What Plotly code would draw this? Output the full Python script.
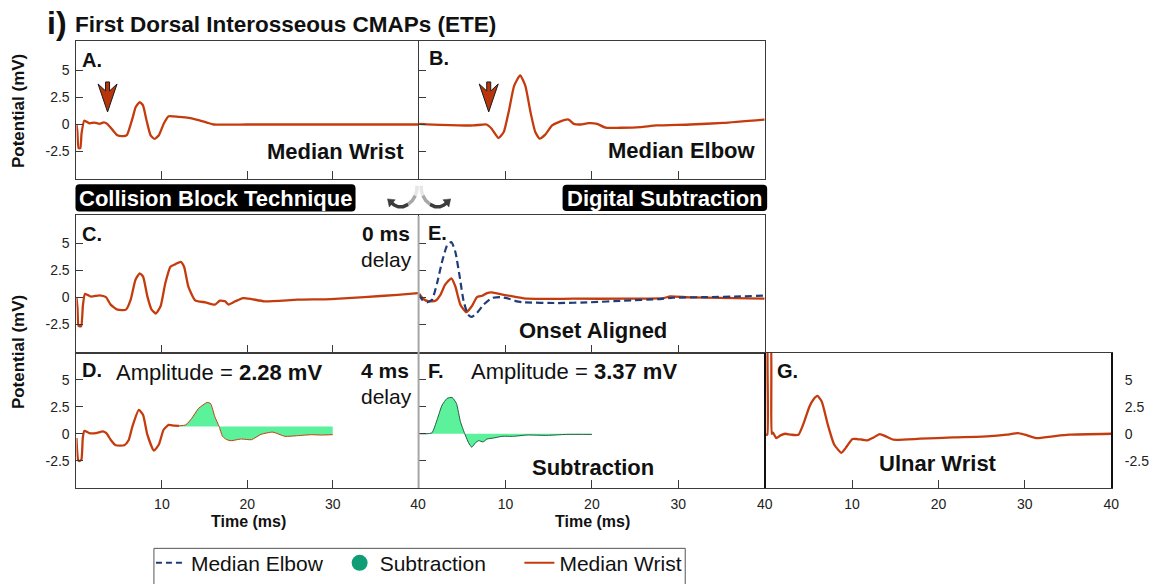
import plotly.graph_objects as go

W, H = 1157, 584
FONT = "Liberation Sans"
ORANGE = "#c43c0e"
NAVY = "#1f3d7a"
GREEN_FILL = "#5cf29c"
GREEN_DARK = "#0f9d75"
AXCOL = "#3a3a3a"

# ---------------- data (time in ms, potential in mV) ----------------
A_t = [0, 0.1, 0.25, 0.45, 0.6, 0.93, 1.5, 2.1, 2.7, 3.2, 3.6, 4.22, 4.8, 5.4, 5.9, 6.55, 6.94, 7.4, 7.79, 8.2,
       8.68, 9.15, 9.65, 10.23, 10.8, 11.98, 13.14, 14.3, 15.27, 16.05, 20, 25, 30, 35, 40]
A_v = [0, -0.6, -2.2, -2.2, -0.8, 0.37, 0.1, 0.18, 0.06, 0.2, 0.06, -0.5, -1.0, -1.07, -0.98, 0.55, 1.62, 2.07, 1.77,
       0.4, -1.0, -1.34, -1.0, 0.09, 0.76, 0.7, 0.61, 0.4, 0.18, 0.0, 0.0, 0.0, 0.0, 0.0, 0.0]

B_t = [0, 2.46, 6.3, 7.8, 8.4, 9.2, 9.8, 10.4, 11.0, 11.7, 12.3, 12.9, 13.45, 13.95, 14.6, 15.4, 16.3, 17.3, 17.9,
       18.7, 19.6, 20.6, 21.6, 23.3, 25.6, 27.5, 31.4, 35.2, 40]
B_v = [0.06, -0.03, -0.09, 0.0, -0.39, -1.25, -0.7, 1.28, 3.57, 4.55, 3.57, 1.13, -0.7, -1.31, -0.94, -0.09, 0.27,
       0.46, 0.06, 0.0, 0.12, 0.06, -0.3, -0.3, -0.24, -0.09, 0.0, 0.15, 0.46]

C_t = [0, 0.12, 0.25, 0.55, 0.75, 1.0, 1.7, 2.7, 3.45, 4.0, 4.8, 5.8, 6.35, 6.9, 7.4, 7.8, 8.3, 8.8, 9.3, 9.85,
       10.4, 11.0, 11.6, 12.2, 12.6, 13.1, 13.9, 15.1, 16.2, 16.8, 17.4, 17.8, 18.6, 19.5, 20.5, 22.0, 25.9, 29.8,
       33.7, 37.6, 40]
C_v = [0, -1.0, -2.68, -2.68, -0.8, 0.31, 0.05, 0.16, 0.0, -0.7, -1.16, -1.16, -0.24, 1.59, 2.2, 1.9, 0.07, -1.16,
       -1.52, -0.85, 1.28, 2.81, 3.05, 3.27, 2.81, 0.98, -0.3, -0.49, -0.7, -0.33, -0.39, -0.7, -0.39, -0.09, -0.18,
       -0.39, -0.24, -0.18, 0.0, 0.21, 0.37]

E_elbow_t = [0, 0.35, 0.92, 1.5, 2.08, 2.66, 3.24, 3.74, 4.2, 4.7, 5.16, 5.66, 6.1, 6.7, 7.47, 8.4, 9.4, 10.4, 11.3,
             12.1, 15.96, 19.8, 23.7, 27.9, 29.4, 33.3, 37.2, 40]
E_elbow_v = [0.21, -0.24, -0.48, -0.24, 1.28, 3.27, 4.79, 5.1, 4.18, 1.89, -0.39, -1.61, -1.83, -1.46, -0.7, -0.09,
             0.0, -0.15, -0.39, -0.48, -0.55, -0.48, -0.33, -0.18, -0.06, 0.0, 0.06, 0.15]
E_wrist_t = [0, 0.5, 1.1, 1.9, 2.47, 3.0, 3.74, 4.2, 4.78, 5.47, 6.1, 6.7, 7.3, 7.86, 8.4, 9.8, 11.3, 12.5, 17.9,
             23.7, 28.3, 29.05, 31.4, 40]
E_wrist_v = [0.31, -0.18, -0.39, -0.33, 0.21, 1.13, 1.74, 0.98, -0.7, -1.4, -0.85, 0.0, 0.12, 0.37, 0.43, 0.21, 0.0,
             -0.15, -0.15, -0.15, -0.09, 0.06, -0.03, -0.15]

D_t = [0, 0.18, 0.35, 0.58, 0.74, 0.93, 1.5, 2.3, 3.1, 3.5, 4.0, 4.6, 5.6, 6.1, 6.55, 7.3, 7.8, 8.3, 9.07, 9.65,
       10.2, 10.8, 11.4, 12.0, 12.8, 13.5, 14.3, 15.3, 15.7, 16.2, 16.7, 17.1, 17.6, 18.1, 19.3, 20.5, 21.6, 23.0,
       24.4, 25.9, 27.5, 28.6, 30.0]
D_v = [-0.4, -2.38, -2.53, -2.38, -0.4, 0.27, 0.06, 0.06, 0.22, 0.06, -0.55, -1.07, -1.07, -0.61, 0.67, 2.2, 1.74,
       -0.09, -1.56, -1.0, 0.37, 0.82, 0.76, 0.73, 0.82, 1.43, 2.35, 2.9, 2.8, 1.58, 0.67, -0.24, -0.55, -0.64, -0.49,
       -0.55, -0.06, 0.15, -0.24, -0.18, -0.09, -0.12, -0.09]
D_FILL_START = 12.0      # ms, start of shaded subtraction window
D_SUB_LEVEL = 0.67       # mV, reference level of shaded window

F_t = [0, 0.92, 1.5, 2.08, 2.66, 3.24, 3.82, 4.32, 4.78, 5.24, 5.74, 6.1, 6.5, 6.9, 7.4, 7.86, 8.6, 9.6, 10.9, 12.5,
       14.8, 17.1, 20.0]
F_v = [0, 0, 0.09, 1.28, 2.65, 3.27, 3.36, 2.81, 1.13, 0.09, -0.85, -1.25, -0.85, -0.64, -0.76, -0.49, -0.4, -0.24,
       -0.24, -0.12, -0.15, -0.06, -0.06]

G_t = [0, 0.19, 0.3, 0.55, 0.7, 0.84, 1.23, 1.72, 2.26, 2.95, 3.8, 4.4, 5.06, 5.55, 6.0, 6.5, 7.2, 7.93, 8.77, 9.27,
       10.04, 10.6, 11.76, 12.5, 13.2, 13.9, 14.8, 17.9, 21.7, 25.6, 27.9, 29.2, 30.0, 31.3, 33.2, 35.1, 40]
G_v = [-0.09, -0.09, 9.0, 9.0, 0.0, 0.1, -0.4, -0.15, 0.0, -0.09, -0.09, 0.98, 2.5, 3.2, 3.5, 2.96, 0.82, -1.0,
       -1.77, -1.31, -0.49, -0.49, -0.61, -0.34, -0.03, -0.24, -0.55, -0.46, -0.34, -0.24, -0.09, 0.06, -0.09, -0.4,
       -0.24, -0.09, 0.0]

Y_TICKS = [-2.5, 0, 2.5, 5]
Y_TICKTEXT = ["-2.5", "0", "2.5", "5"]
X_TICKS = [10, 20, 30, 40]
X_TICKTEXT = ["10", "20", "30", "40"]
LEGEND_NAMES = ["Median Elbow", "Subtraction", "Median Wrist"]


def fx(p):
    return p / W


def fy(p):
    return 1 - p / H


fig = go.Figure()

line_kw = dict(shape="spline", smoothing=0.5)


def wave(t, v, xa, ya, color=ORANGE, width=2.3, dash=None, **kw):
    fig.add_trace(go.Scatter(x=t, y=v, xaxis=xa, yaxis=ya, mode="lines", showlegend=False,
                             line=dict(color=color, width=width, dash=dash, **line_kw),
                             hoverinfo="skip", **kw))


wave(A_t, A_v, "x", "y")
wave(B_t, B_v, "x2", "y2")
wave(C_t, C_v, "x3", "y3")
wave(E_wrist_t, E_wrist_v, "x4", "y4")
wave(E_elbow_t, E_elbow_v, "x4", "y4", color=NAVY, width=2.2, dash="7px,4px")

# D: wrist response with shaded subtraction window
d1_t = [t for t in D_t if t <= D_FILL_START]
d1_v = [v for t, v in zip(D_t, D_v) if t <= D_FILL_START]
d2_t = [t for t in D_t if t >= D_FILL_START]
d2_v = [v for t, v in zip(D_t, D_v) if t >= D_FILL_START]
wave(d1_t, d1_v, "x5", "y5")
fig.add_trace(go.Scatter(x=[D_FILL_START, D_t[-1]], y=[D_SUB_LEVEL, D_SUB_LEVEL], xaxis="x5", yaxis="y5",
                         mode="lines", line=dict(width=0, color=GREEN_FILL), showlegend=False, hoverinfo="skip"))
wave(d2_t, d2_v, "x5", "y5", width=1.0, fill="tonexty", fillcolor=GREEN_FILL)

# F: subtraction
wave(F_t, F_v, "x6", "y6", color="#1d5e40", width=1.0, fill="tozeroy", fillcolor=GREEN_FILL)

# G: ulnar wrist
wave(G_t, G_v, "x7", "y7")

# legend-only traces
fig.add_trace(go.Scatter(x=[None], y=[None], xaxis="x", yaxis="y", mode="lines", name=LEGEND_NAMES[0],
                         line=dict(color=NAVY, width=2, dash="6px,4px"), legend="legend"))
fig.add_trace(go.Scatter(x=[None], y=[None], xaxis="x", yaxis="y", mode="markers", name=LEGEND_NAMES[1],
                         marker=dict(color=GREEN_DARK, size=19, symbol="circle"), legend="legend2"))
fig.add_trace(go.Scatter(x=[None], y=[None], xaxis="x", yaxis="y", mode="lines", name=LEGEND_NAMES[2],
                         line=dict(color=ORANGE, width=2), legend="legend3"))

cols = {1: (77, 421), 2: (422, 770), 3: (771, 1119)}
rows = {1: (42, 181, 126), 2: (218, 357, 300.7), 3: (357, 494, 439)}
SCALE = 10.93  # px per mV
panels = [  # axis index, col, row, x labels, y labels side
    (1, 1, 1, False, "left"),
    (2, 2, 1, False, None),
    (3, 1, 2, False, "left"),
    (4, 2, 2, False, None),
    (5, 1, 3, True, "left"),
    (6, 2, 3, True, None),
    (7, 3, 3, True, "right"),
]
tickfont = dict(family=FONT, size=14, color="#222")
layout_axes = {}
for idx, c, r, xlab, ylab in panels:
    x0, x1 = cols[c]
    top, bot, zero = rows[r]
    yr = [-(bot - zero) / SCALE, (zero - top) / SCALE]
    xn = "xaxis" if idx == 1 else f"xaxis{idx}"
    yn = "yaxis" if idx == 1 else f"yaxis{idx}"
    xref = "x" if idx == 1 else f"x{idx}"
    yref = "y" if idx == 1 else f"y{idx}"
    layout_axes[xn] = dict(domain=[fx(x0), fx(x1)], anchor=yref, range=[0, 40], showgrid=False, zeroline=False,
                           showline=True, mirror=True, linecolor=AXCOL, linewidth=1,
                           ticks="inside", ticklen=8, tickcolor=AXCOL, tickvals=X_TICKS, ticktext=X_TICKTEXT,
                           showticklabels=xlab, tickfont=tickfont, ticklabelstandoff=3)
    ya = dict(domain=[fy(bot), fy(top)], anchor=xref, range=yr, showgrid=False, zeroline=False,
              showline=True, mirror=True, linecolor=AXCOL, linewidth=1,
              ticks="inside", ticklen=7, tickcolor=AXCOL, tickvals=Y_TICKS, ticktext=Y_TICKTEXT,
              showticklabels=ylab is not None, tickfont=tickfont, ticklabelstandoff=3)
    if ylab == "right":
        ya.update(side="right", ticks="", ticklabelstandoff=9, linecolor="#111", linewidth=1.5)
    layout_axes[yn] = ya

annotations = []


def txt(text, x, y, size, xanchor="center", bold=False, color="#111", angle=0):
    annotations.append(dict(text=f"<b>{text}</b>" if bold else text, x=fx(x), y=fy(y), xref="paper", yref="paper",
                            xanchor=xanchor, yanchor="middle", showarrow=False, textangle=angle,
                            font=dict(family=FONT, size=size, color=color)))


txt("i)", 45, 23, 32, "left", bold=True)
txt("First Dorsal Interosseous CMAPs (ETE)", 74, 24.5, 22.5, "left", bold=True)
txt("Potential (mV)", 18, 112.5, 17, bold=True, angle=-90)
txt("Potential (mV)", 18, 356.5, 17, bold=True, angle=-90)
txt("Time (ms)", 250, 527.5, 16, bold=True)
txt("Time (ms)", 597, 527.5, 16, bold=True)
for lab, x, y in [("A.", 81, 61), ("B.", 430, 59), ("C.", 81, 237), ("E.", 429, 236), ("D.", 81, 374),
                  ("F.", 429, 375), ("G.", 780, 375)]:
    txt(lab, x, y, 20, "left", bold=True)
txt("Median Wrist", 409, 153, 22, "right", bold=True)
txt("Median Elbow", 763, 152, 22, "right", bold=True)
txt("Onset Aligned", 597, 335, 22, bold=True)
txt("Subtraction", 597, 473, 22, bold=True)
txt("Ulnar Wrist", 945, 469, 22, bold=True)
txt("<b>0 ms</b>", 415, 236.5, 21, "right")
txt("delay", 417, 263, 21, "right")
txt("<b>4 ms</b>", 414, 374.5, 21, "right")
txt("delay", 417, 401, 21, "right")
txt("Amplitude = <b>2.28 mV</b>", 115, 377, 22, "left")
txt("Amplitude = <b>3.37 mV</b>", 472, 376, 22, "left")
txt("Collision Block Technique", 217, 200.5, 22, bold=True, color="white")
txt("Digital Subtraction", 669.5, 200.5, 22, bold=True, color="white")


def P(px, py):
    return f"{fx(px):.5f},{fy(py):.5f}"


def rrect(x0, y0, x1, y1, r):
    return (f"M{P(x0 + r, y0)} L{P(x1 - r, y0)} Q{P(x1, y0)} {P(x1, y0 + r)} L{P(x1, y1 - r)} "
            f"Q{P(x1, y1)} {P(x1 - r, y1)} L{P(x0 + r, y1)} Q{P(x0, y1)} {P(x0, y1 - r)} "
            f"L{P(x0, y0 + r)} Q{P(x0, y0)} {P(x0 + r, y0)} Z")


shapes = []
# black label boxes
shapes.append(dict(type="path", xref="paper", yref="paper", path=rrect(76, 186.5, 358, 214, 4),
                   fillcolor="black", line=dict(width=0), layer="below"))
shapes.append(dict(type="path", xref="paper", yref="paper", path=rrect(566.5, 187, 772.5, 213.5, 4),
                   fillcolor="black", line=dict(width=0), layer="below"))

# curved grey arrows
left_pts = [(420, 188), (419.6, 193), (418.2, 198), (415.2, 203), (411, 206.8), (406, 209.2), (401, 209.3),
            (397, 207.5), (394, 205)]
segs = [(0, 3, "#e6e6e6"), (2, 5, "#a8a8a8"), (4, 9, "#3c3c3c")]
for pts in (left_pts, [(844 - x, y) for x, y in left_pts]):
    for a, b, col in segs:
        seg = pts[a:b]
        path = "M" + " L".join(P(x, y) for x, y in seg)
        shapes.append(dict(type="path", xref="paper", yref="paper", path=path,
                           line=dict(color=col, width=3.5)))
for sgn in (1, -1):
    cx = 422
    tri = [(390.2, 201.3), (398.0, 202.2), (392.0, 209.6)]
    tri = [(cx + sgn * (x - cx), y) for x, y in tri]
    path = "M" + " L".join(P(x, y) for x, y in tri) + " Z"
    shapes.append(dict(type="path", xref="paper", yref="paper", path=path, fillcolor="#3c3c3c",
                       line=dict(color="#3c3c3c", width=0.5)))

# onset arrows in A and B
arrow_path = "M0,0 L-9.5,28 L-2,21 L-2,30 L2,30 L2,21 L9.5,28 Z"
for xr, yr, xa in [("x", "y", 3.64), ("x2", "y2", 8.06)]:
    shapes.append(dict(type="path", xref=xr, yref=yr, xsizemode="pixel", ysizemode="pixel",
                       xanchor=xa, yanchor=1.16, path=arrow_path, fillcolor="#b8350c",
                       line=dict(color="#1a1a1a", width=1)))

# light grey divider between collision and subtraction panels
shapes.append(dict(type="line", xref="paper", yref="paper", x0=fx(421.5), x1=fx(421.5), y0=fy(218.5),
                   y1=fy(494), line=dict(color="#a6a6a6", width=2)))
# legend frame
shapes.append(dict(type="rect", xref="paper", yref="paper", x0=fx(155), x1=fx(690), y0=fy(600), y1=fy(555),
                   line=dict(color="#555", width=1), fillcolor="white", layer="below"))

leg_common = dict(orientation="h", yanchor="middle", y=fy(570), xanchor="left", bgcolor="rgba(0,0,0,0)",
                  borderwidth=0, font=dict(family=FONT, size=21, color="#111"), itemwidth=30)

fig.update_layout(
    width=W, height=H, margin=dict(l=0, r=0, t=0, b=0),
    paper_bgcolor="white", plot_bgcolor="white",
    font=dict(family=FONT, color="#111"),
    annotations=annotations, shapes=shapes,
    legend=dict(x=fx(152), **leg_common),
    legend2=dict(x=fx(342), **leg_common),
    legend3=dict(x=fx(523), **leg_common),
    **layout_axes,
)

fig.write_html("out.html")
